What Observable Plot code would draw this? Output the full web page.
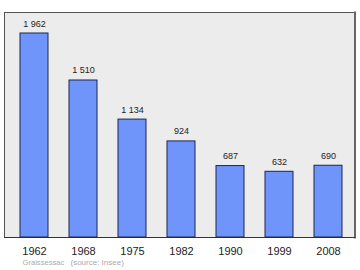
<!DOCTYPE html>
<html>
<head>
<meta charset="utf-8">
<script src="https://cdn.jsdelivr.net/npm/d3@7"></script>
<script src="https://cdn.jsdelivr.net/npm/@observablehq/plot@0.6"></script>
<style>
  html, body { margin: 0; padding: 0; background: #fff; }
</style>
</head>
<body>
<div id="chart"></div>
<script>
const years = ["1962", "1968", "1975", "1982", "1990", "1999", "2008"];
const population = [1962, 1510, 1134, 924, 687, 632, 690];
const commune = "Graissessac";
const source = "(source: Insee)";

const data = years.map((year, i) => ({ year, pop: population[i] }));
const fmt = d3.formatLocale({ thousands: "\u00a0", grouping: [3], decimal: "," }).format(",");

const chart = Plot.plot({
  width: 360,
  height: 270,
  marginLeft: 4,
  marginRight: 6,
  marginTop: 12,
  marginBottom: 33,
  style: { fontFamily: "'Liberation Sans', Arial, sans-serif", background: "#fff" },
  x: { type: "band", domain: years, range: [19, 342], paddingInner: 0.43, paddingOuter: 0 },
  y: { domain: [0, 2164], axis: null },
  marks: [
    Plot.frame({ fill: "#ececec", stroke: "#555", strokeWidth: 1 }),
    Plot.frame({ anchor: "right", stroke: "#666", strokeWidth: 2, dx: 0.5 }),
    Plot.frame({ anchor: "bottom", stroke: "#333", strokeWidth: 1 }),
    Plot.barY(data, { x: "year", y: "pop", fill: "#6f95fb", stroke: "#1c2452", strokeWidth: 1 }),
    Plot.text(data, { x: "year", y: "pop", text: d => fmt(d.pop), lineAnchor: "bottom", dy: -7, fontSize: 9, fill: "#222" }),
    Plot.axisX({ tickSize: 0, tickPadding: 9.5, fontSize: 11, color: "#222", label: null }),
    Plot.text([commune], { frameAnchor: "bottom-left", text: d => d, dx: 18, dy: 27, lineAnchor: "bottom", textAnchor: "start", fontSize: 7.6, fill: "#aaa" }),
    Plot.text([source], { frameAnchor: "bottom-left", text: d => d, dx: 66, dy: 27, lineAnchor: "bottom", textAnchor: "start", fontSize: 8, fill: "#aaa" })
  ]
});
document.getElementById("chart").append(chart);
</script>
</body>
</html>
